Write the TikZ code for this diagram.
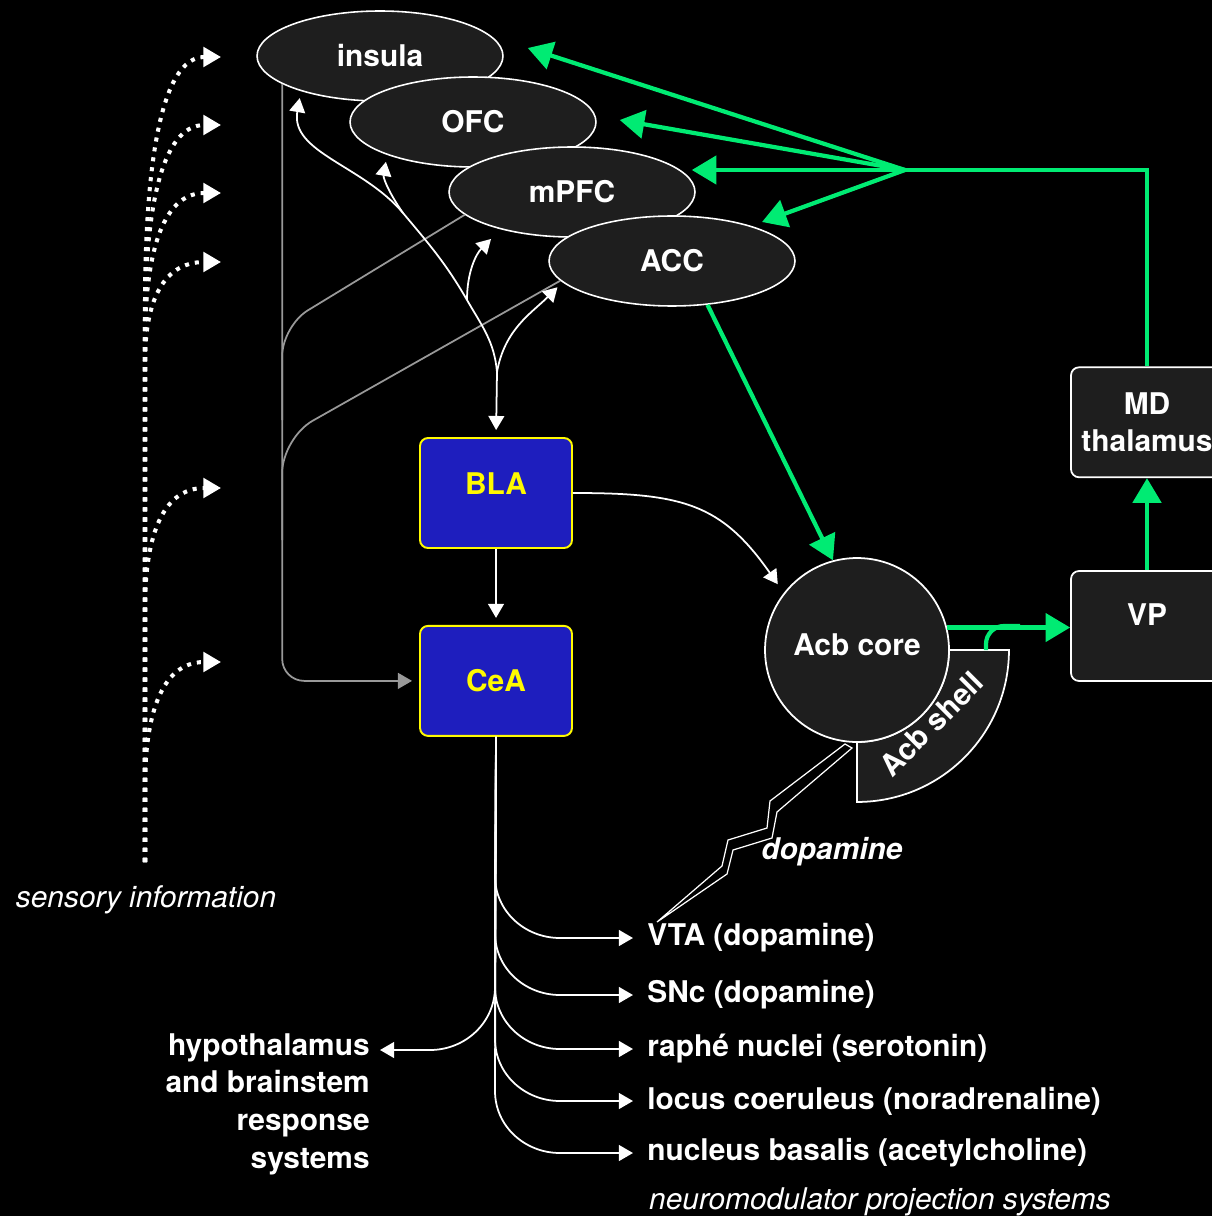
\documentclass[tikz,border=0pt]{standalone}
\usepackage{fontspec}
\setmainfont{TeX Gyre Heros}
\usetikzlibrary{positioning, arrows.meta, shapes.geometric}
\definecolor{cortex}{RGB}{30,30,30}
\definecolor{amyblue}{RGB}{30,30,190}
\definecolor{amyyellow}{RGB}{255,250,0}
\definecolor{loopgreen}{RGB}{0,235,115}

\begin{document}
\begin{tikzpicture}[x=0.02cm, y=0.02cm, font=\fontsize{17pt}{21.5pt}\selectfont\bfseries, text=white]
\tikzstyle{region}=[draw=white, fill=cortex, ellipse, line width=0.9pt, minimum width=4.92cm, minimum height=1.8cm, inner sep=0pt]
\tikzstyle{nucleus}=[draw=amyyellow, fill=amyblue, rectangle, rounded corners=0.16cm, line width=1.1pt, text=amyyellow, minimum width=3.04cm, minimum height=2.2cm]
\tikzstyle{relay}=[draw=white, fill=cortex, rectangle, rounded corners=0.16cm, line width=1pt, minimum width=3.04cm, minimum height=2.2cm, align=center]
\tikzstyle{wire}=[draw=white, line width=1pt, -{Triangle[length=8pt,width=9pt]}, shorten >=4pt]
\tikzstyle{greenpath}=[draw=loopgreen, line width=2.4pt, -{Triangle[length=14pt,width=16pt]}]
\tikzstyle{grayline}=[draw=gray!80, line width=1pt]
\tikzstyle{sense}=[draw=white, line width=2.3pt, dash pattern=on 2.3pt off 3.4pt, -{Triangle[length=10pt,width=11pt]}]
\tikzstyle{outlabel}=[anchor=west, inner sep=4pt]

\useasboundingbox (0,0) rectangle (1212,-1216);
\fill[black] (0,0) rectangle (1212,-1216);

% cortex
\node[region] (insula) at (380,-56)  {insula};
\node[region] (OFC)    at (473,-122) {OFC};
\node[region] (mPFC)   at (572,-192) {mPFC};
\node[region] (ACC)    at (672,-261) {ACC};

% amygdala
\node[nucleus, text depth=0.36cm] (BLA) at (496,-493) {BLA};
\node[nucleus, below=1.52cm of BLA] (CeA) {CeA};

% thalamic loop
\node[relay, text depth=0.44cm] (VP) at (1147,-626) {VP};
\node[relay, above=1.84cm of VP] (MD) {MD\\thalamus};

% accumbens
\coordinate (acb) at (857,-650);
\filldraw[draw=white, fill=cortex, line width=1pt] (acb) ++(1.84cm,0) -- ++(1.2cm,0)
  arc[start angle=0, end angle=-90, radius=3.04cm] -- ++(0,1.2cm)
  arc[start angle=-90, end angle=0, radius=1.84cm] -- cycle;
\node[circle, draw=white, fill=cortex, line width=1pt, minimum size=3.68cm, inner sep=0pt, text depth=0.2cm] (core) at (acb) {Acb core};
\node[rotate=45] (shell) at ([shift={(-45:2.1cm)}]acb) {Acb shell};

% gray inputs to CeA
\coordinate (graytop) at (insula.196);
\draw[grayline, rounded corners=0.44cm, -{Triangle[length=8pt,width=9pt]}, shorten >=4pt] (graytop) |- (CeA.west);
\draw[grayline, rounded corners=0.6cm] (mPFC.192) -- (graytop |- 0,-326) -- (graytop |- 0,-420);
\draw[grayline, rounded corners=0.7cm] (ACC.190) -- (graytop |- 0,-438) -- (graytop |- 0,-540);

% BLA <-> cortex
\coordinate (split) at (497,-372);
\coordinate (mbranch) at (467,-300);
\coordinate (obranch) at (403,-213);
\draw[wire] (split) -- (BLA.north);
\draw[wire] (split) to[out=80,in=225] (ACC.191);
\draw[wire] (split) to[out=95,in=-60] (mbranch) to[out=120,in=-50] (obranch) to[out=130,in=-100] (insula.204);
\draw[wire] (obranch) to[out=125,in=-100] (OFC.201);
\draw[wire] (mbranch) to[out=90,in=225] ([shift={(-76,-42)}]mPFC.center);

\draw[wire] (BLA.south) -- (BLA.south |- CeA.north);
\draw[wire, shorten >=6pt] (BLA.east) to[out=0,in=125,looseness=1.2] (core.142);

% green loop
\coordinate (hub) at (905,-170);
\draw[greenpath, -] (MD.north) |- (hub);
\draw[greenpath] (hub) -- ([shift={(24,8)}]insula.east);
\draw[greenpath] (hub) -- ([shift={(23,2)}]OFC.east);
\draw[greenpath] (hub) -- ([shift={(-4,22)}]mPFC.east);
\draw[greenpath] (hub) -- ([shift={(90,39)}]ACC.center);
\draw[greenpath] (ACC.-51) -- (core.105);
\draw[greenpath] (core.14) -- (core.14 -| VP.west);
\coordinate (shelltop) at ([shift={(129,0)}]acb);
\draw[draw=loopgreen, line width=2.4pt, rounded corners=0.36cm] (shelltop) |- ([xshift=-1cm]VP.west);
\draw[greenpath] (VP.north) -- (MD.south);

% dopamine bolt
\filldraw[draw=white, fill=black, line width=0.7pt] (845,-744) -- (770,-801) -- (767,-828) -- (728,-840) -- (722,-866)
  -- (657,-922) -- (727,-874) -- (733,-850) -- (772,-838) -- (777,-812) -- (852,-748) -- cycle;
\node[font=\fontsize{17pt}{21.5pt}\selectfont\bfseries\itshape] (dopa) at (832,-852) {dopamine};

% CeA outputs
\foreach \y/\txt in {938/VTA (dopamine), 995/SNc (dopamine), 1049/raphé nuclei (serotonin), 1101/locus coeruleus (noradrenaline), 1153/nucleus basalis (acetylcholine)}{
  \node[outlabel] (out\y) at (640,-\y) {\txt};
  \draw[wire] (CeA.south) -- (495,{-\y+62}) to[out=-90,in=180] (560,-\y) -- (out\y.west);
}
\node[anchor=north east, align=right, inner sep=0pt] (hypo) at (370,-1033) {hypothalamus\\and brainstem\\response\\systems};
\coordinate (hypotip) at (373,-1050);
\draw[wire] (CeA.south) -- (495,-987) to[out=-90,in=0] (430,-1050) -- (hypotip);
\node[anchor=west, font=\fontsize{17pt}{21.5pt}\selectfont\mdseries\itshape] (neuro) at (643,-1202) {neuromodulator projection systems};

% sensory input
\coordinate (sens) at (145,-862);
\foreach \y/\l in {57/250, 125/200, 193/150, 262/100, 488/120, 662/125}{
  \coordinate (cue\y) at (221,-\y);
  \draw[sense] (sens) -- (145,{-\y-\l}) .. controls (145,{-\y-0.45*\l}) and (160,-\y) .. (cue\y);
}
\node[font=\fontsize{17pt}{21.5pt}\selectfont\mdseries\itshape] (sensory) at (146,-900) {sensory information};
\end{tikzpicture}
\end{document}
